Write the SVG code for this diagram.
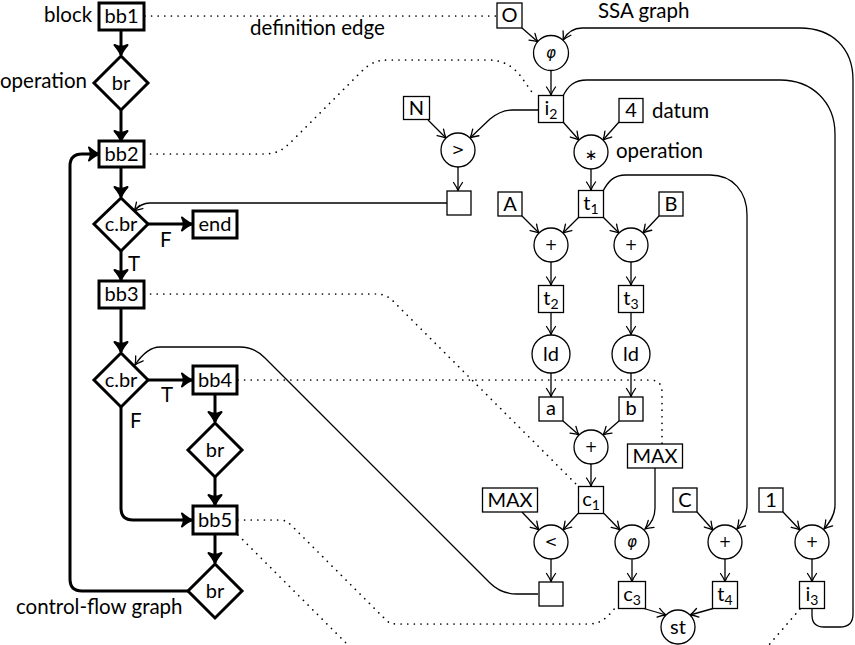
<svg xmlns="http://www.w3.org/2000/svg" width="855" height="645" viewBox="0 0 855 645">
<defs>
<style>
text{font-family:Lato,"Liberation Sans",sans-serif;fill:#000}
.lbl{font-size:20.5px}
.bl{font-size:20px;text-anchor:middle}
.sub{font-size:14px}
.sym{font-family:"DejaVu Sans",sans-serif;font-size:15px;text-anchor:middle}
.cb{fill:#fff;stroke:#000;stroke-width:3}
.sb{fill:#fff;stroke:#000;stroke-width:1.3}
.ce{fill:none;stroke:#000;stroke-width:3;marker-end:url(#ahT)}
.se{fill:none;stroke:#000;stroke-width:1.3;marker-end:url(#ah)}
.sl{fill:none;stroke:#000;stroke-width:1.3}
.dt{fill:none;stroke:#000;stroke-width:1.7;stroke-dasharray:0.01 6.6;stroke-linecap:round}
</style>
<marker id="ah" viewBox="-10 -7 12 14" refX="0" refY="0" markerWidth="12" markerHeight="14" markerUnits="userSpaceOnUse" orient="auto">
<path d="M-8,-4.5 Q-3,-1 0,0 Q-3,1 -8,4.5" fill="none" stroke="#000" stroke-width="1.3" stroke-linecap="round"/>
</marker>
<marker id="ahT" viewBox="-13 -9 15 18" refX="0" refY="0" markerWidth="15" markerHeight="18" markerUnits="userSpaceOnUse" orient="auto">
<path d="M-10,-6.5 Q-4,-1.5 0,0 Q-4,1.5 -10,6.5 Q-6.5,0 -10,-6.5 z" fill="#000" stroke="#000" stroke-width="2" stroke-linejoin="round"/>
</marker>
</defs>
<rect width="855" height="645" fill="#fff"/>

<g id="connectors">
<!-- dotted definition edges -->
<path class="dt" d="M145,16 L497,16"/>
<path class="dt" d="M144,154 L262,154 C280,154 285,148 295,138 L360,73 C372,61 378,60 392,60 L488,60 C505,60 515,68 522,78 L534,95"/>
<path class="dt" d="M144,294 L374,294 C382,294 386,295 392,300 L577,485"/>
<path class="dt" d="M238,380 L650,380 Q662,380 662,392 L662,444"/>
<path class="dt" d="M238,520 L280,520 C285,520 288,522 292,526 L386,620 C390,624 393,624 398,624 L588,624 C600,624 606,619 615,608"/>
<path class="dt" d="M238,535 L349,646"/>
<path class="dt" d="M800,609 L768,646"/>

<!-- CFG edges -->
<path class="ce" d="M121,31 L121,55"/>
<path class="ce" d="M121,110 L121,141"/>
<path class="ce" d="M121,167 L121,197"/>
<path class="ce" d="M148,224 L192,224"/>
<path class="ce" d="M121,251 L121,280"/>
<path class="ce" d="M121,308 L121,352"/>
<path class="ce" d="M148,380 L192,380"/>
<path class="ce" d="M215,394 L215,422"/>
<path class="ce" d="M121,407 L121,508 Q121,520 133,520 L192,520"/>
<path class="ce" d="M215,477 L215,505"/>
<path class="ce" d="M215,534 L215,563"/>
<path class="ce" d="M188,591 L82,591 Q70,591 70,579 L70,166 Q70,154 82,154 L99,154"/>

<!-- SSA edges -->
<path class="se" d="M522,28 L538,42"/>
<path class="se" d="M812,608 L812,615 Q812,627 824,627 L840,627 Q853,627 853,614 L853,80 C853,48 832,28 800,28 L582,28 C573,28 567,33 563,40"/>
<path class="se" d="M551,70.5 L551,95"/>
<path class="se" d="M563,96 C568,86 574,80 587,80 L780,80 C812,80 835,102 835,134 L835,505 C835,515 830,522 824,529"/>
<path class="se" d="M538,110 L512,110 C502,110 496,114 490,119 L470,138"/>
<path class="se" d="M428,120 L446,138"/>
<path class="se" d="M563,122 L579,140"/>
<path class="se" d="M619,122 L603,140"/>
<path class="se" d="M458,167 L458,190.5"/>
<path class="se" d="M591,169 L591,190"/>
<path class="sl" d="M447,203 L150,203 Q141,203 134,211"/>
<path class="se" d="M140,205 L134,211"/>
<path class="se" d="M579,217 L563,233"/>
<path class="se" d="M522,216 L539,233"/>
<path class="se" d="M603,217 L619,233"/>
<path class="se" d="M659,216 L643,233"/>
<path class="se" d="M603,191 C608,182 613,175 626,175 L710,175 C733,175 747,192 747,215 L747,505 C747,515 743,522 737,529"/>
<path class="se" d="M551,262 L551,285"/>
<path class="se" d="M631,262 L631,285"/>
<path class="se" d="M551,312.5 L551,334.5"/>
<path class="se" d="M631,312.5 L631,334.5"/>
<path class="se" d="M551,373 L551,396.5"/>
<path class="se" d="M631,373 L631,396.5"/>
<path class="se" d="M563,421 L579,435"/>
<path class="se" d="M619,421 L603,435"/>
<path class="se" d="M591,464 L591,486"/>
<path class="se" d="M655,468 L655,508 C655,518 651,524 645,529"/>
<path class="se" d="M578,513.5 L563,530"/>
<path class="se" d="M522,512 L539,530"/>
<path class="se" d="M604,513.5 L620,530"/>
<path class="se" d="M697,512 L713,530"/>
<path class="se" d="M783,512 L800,530"/>
<path class="se" d="M551,559 L551,581.5"/>
<path class="se" d="M632,559.5 L632,581.5"/>
<path class="se" d="M725,559 L725,581.5"/>
<path class="se" d="M812,559 L812,581.5"/>
<path class="se" d="M644,608.5 L666,615"/>
<path class="se" d="M713,608.5 L690,615"/>
<path class="se" d="M538,594 L517,594 Q501,594 490,583 L265,358 Q254,347 240,347 L160,347 Q147,347 135,365"/>
</g>

<!-- CFG nodes -->
<g id="bb1"><rect class="cb" x="99" y="3" width="45" height="27"/><text class="bl" x="121.5" y="23">bb1</text></g>
<g id="br1"><path class="cb" d="M121,56 L148,83 L121,110 L94,83 Z"/><text class="bl" x="121" y="90">br</text></g>
<g id="bb2"><rect class="cb" x="99" y="141" width="45" height="26"/><text class="bl" x="121.5" y="161">bb2</text></g>
<g id="cbr1"><path class="cb" d="M121,198 L148,224 L121,251 L94,224 Z"/><text class="bl" x="121" y="231">c.br</text></g>
<g id="end"><rect class="cb" x="193" y="211" width="44" height="27"/><text class="bl" x="215" y="231">end</text></g>
<g id="bb3"><rect class="cb" x="99" y="281" width="45" height="27"/><text class="bl" x="121.5" y="301">bb3</text></g>
<g id="cbr2"><path class="cb" d="M121,353 L148,380 L121,407 L94,380 Z"/><text class="bl" x="121" y="387">c.br</text></g>
<g id="bb4"><rect class="cb" x="193" y="366" width="44" height="28"/><text class="bl" x="215" y="387">bb4</text></g>
<g id="br2"><path class="cb" d="M215,423 L242,450 L215,477 L188,450 Z"/><text class="bl" x="215" y="457">br</text></g>
<g id="bb5"><rect class="cb" x="193" y="506" width="44" height="28"/><text class="bl" x="215" y="527">bb5</text></g>
<g id="br3"><path class="cb" d="M215,564 L242,591 L215,618 L188,591 Z"/><text class="bl" x="215" y="598">br</text></g>

<!-- CFG labels -->
<g id="cfg-labels">
<text class="lbl" x="44" y="22">block</text>
<text class="lbl" x="0" y="88">operation</text>
<text class="lbl" x="160" y="247">F</text>
<text class="lbl" x="128" y="271">T</text>
<text class="lbl" x="161" y="402">T</text>
<text class="lbl" x="130" y="428">F</text>
<text class="lbl" x="16" y="614">control-flow graph</text>
<text class="lbl" x="250" y="35">definition edge</text>
</g>

<!-- SSA nodes -->
<g id="O"><rect class="sb" x="497" y="3" width="25" height="25"/><text class="bl" x="509.5" y="22">O</text></g>
<g id="phi1"><circle class="sb" cx="551" cy="53" r="17.5"/><text class="sym" x="551" y="58" font-style="italic">φ</text></g>
<g id="i2"><rect class="sb" x="538.5" y="95.5" width="25" height="27"/><text class="bl" x="551" y="115">i<tspan class="sub" dy="4">2</tspan></text></g>
<g id="N"><rect class="sb" x="403.5" y="96.5" width="26" height="23"/><text class="bl" x="416.5" y="115">N</text></g>
<g id="gt"><circle class="sb" cx="458" cy="150" r="17"/><text class="sym" x="458" y="155">&gt;</text></g>
<g id="four"><rect class="sb" x="619" y="98.5" width="24" height="24"/><text class="bl" x="631" y="117">4</text></g>
<g id="mul"><circle class="sb" cx="591" cy="152" r="17"/><text class="sym" x="591" y="160">∗</text></g>
<g id="box1"><rect class="sb" x="447" y="191" width="24" height="24"/></g>
<g id="A"><rect class="sb" x="498" y="192" width="24" height="24"/><text class="bl" x="510" y="211">A</text></g>
<g id="t1"><rect class="sb" x="578.5" y="190.5" width="25" height="27"/><text class="bl" x="591" y="210">t<tspan class="sub" dy="4">1</tspan></text></g>
<g id="B"><rect class="sb" x="659" y="192" width="24" height="24"/><text class="bl" x="671" y="211">B</text></g>
<g id="plusL"><circle class="sb" cx="551" cy="245" r="17"/><text class="sym" x="551" y="250">+</text></g>
<g id="plusR"><circle class="sb" cx="631" cy="245" r="17"/><text class="sym" x="631" y="250">+</text></g>
<g id="t2"><rect class="sb" x="538.5" y="285.5" width="25" height="27"/><text class="bl" x="551" y="305">t<tspan class="sub" dy="4">2</tspan></text></g>
<g id="t3"><rect class="sb" x="618.5" y="285.5" width="25" height="27"/><text class="bl" x="631" y="305">t<tspan class="sub" dy="4">3</tspan></text></g>
<g id="ldL"><circle class="sb" cx="551" cy="354" r="19"/><text class="bl" x="551" y="361">ld</text></g>
<g id="ldR"><circle class="sb" cx="631" cy="354" r="19"/><text class="bl" x="631" y="361">ld</text></g>
<g id="a"><rect class="sb" x="539" y="397" width="24" height="24"/><text class="bl" x="551" y="415">a</text></g>
<g id="b"><rect class="sb" x="619" y="397" width="24" height="24"/><text class="bl" x="631" y="415">b</text></g>
<g id="plusM"><circle class="sb" cx="591" cy="447" r="17"/><text class="sym" x="591" y="452">+</text></g>
<g id="MAX1"><rect class="sb" x="627.5" y="444" width="55" height="24"/><text class="bl" x="655" y="463">MAX</text></g>
<g id="MAX2"><rect class="sb" x="482.5" y="488" width="55" height="24"/><text class="bl" x="510" y="507">MAX</text></g>
<g id="c1"><rect class="sb" x="578.5" y="486.5" width="25" height="27"/><text class="bl" x="591" y="506">c<tspan class="sub" dy="4">1</tspan></text></g>
<g id="C"><rect class="sb" x="673" y="488" width="24" height="24"/><text class="bl" x="685" y="507">C</text></g>
<g id="one"><rect class="sb" x="759" y="488" width="24" height="24"/><text class="bl" x="771" y="507">1</text></g>
<g id="lt"><circle class="sb" cx="551" cy="542" r="17"/><text class="sym" x="551" y="547">&lt;</text></g>
<g id="phi2"><circle class="sb" cx="632" cy="542" r="17"/><text class="sym" x="632" y="547" font-style="italic">φ</text></g>
<g id="plusC"><circle class="sb" cx="725" cy="542" r="17"/><text class="sym" x="725" y="547">+</text></g>
<g id="plus1"><circle class="sb" cx="812" cy="542" r="17"/><text class="sym" x="812" y="547">+</text></g>
<g id="box2"><rect class="sb" x="539" y="582" width="24" height="24"/></g>
<g id="c3"><rect class="sb" x="618.5" y="581.5" width="27" height="27"/><text class="bl" x="632" y="601">c<tspan class="sub" dy="4">3</tspan></text></g>
<g id="t4"><rect class="sb" x="712.5" y="581.5" width="25" height="27"/><text class="bl" x="725" y="601">t<tspan class="sub" dy="4">4</tspan></text></g>
<g id="i3"><rect class="sb" x="799.5" y="581.5" width="25" height="27"/><text class="bl" x="812" y="601">i<tspan class="sub" dy="4">3</tspan></text></g>
<g id="st"><circle class="sb" cx="678" cy="627" r="17"/><text class="bl" x="678" y="634">st</text></g>

<g id="ssa-labels">
<text class="lbl" x="598" y="18">SSA graph</text>
<text class="lbl" x="652" y="118">datum</text>
<text class="lbl" x="616" y="158">operation</text>
</g>
</svg>
